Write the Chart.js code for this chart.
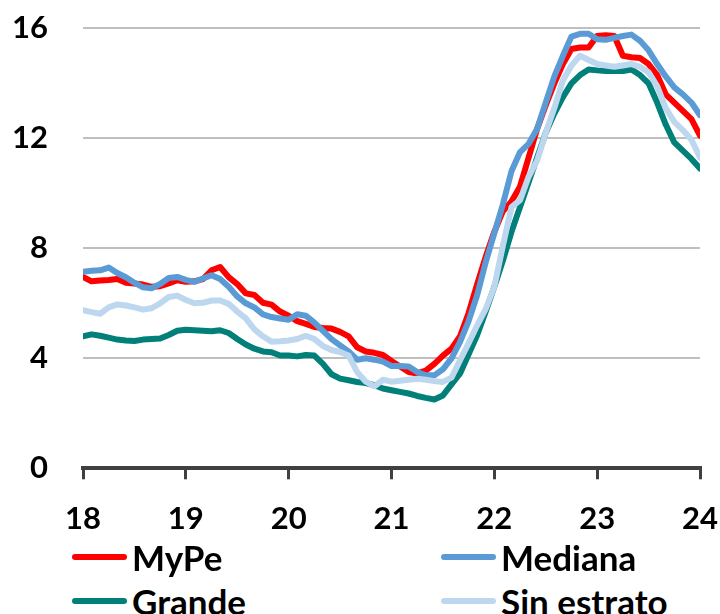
<!DOCTYPE html>
<html>
<head>
<meta charset="utf-8">
<script src="https://cdn.jsdelivr.net/npm/chart.js@4.4.1/dist/chart.umd.min.js"></script>
<style>
  body { margin: 0; background: #fff; }
  #wrap { position: relative; width: 720px; height: 614px; }
  #chart { position: absolute; left: 0; top: 0; }
  .legend-item {
    position: absolute;
    height: 44px;
    display: flex;
    align-items: center;
    font: bold 35px Lato, sans-serif;
    color: #000;
    white-space: nowrap;
  }
  .swatch { width: 55px; height: 6px; border-radius: 3px; margin-right: 5px; }
</style>
</head>
<body>
<div id="wrap">
  <canvas id="chart" width="720" height="540"></canvas>
  <div id="legend"></div>
</div>
<script>
// Monthly series, Jan-18 .. Jan-24 (73 points)
const mype = [
  6.96, 6.8, 6.83, 6.85, 6.88, 6.75, 6.72, 6.68, 6.6, 6.62, 6.72, 6.84,
  6.78, 6.8, 6.88, 7.2, 7.32, 6.95, 6.7, 6.36, 6.3, 6.02, 5.95, 5.7,
  5.55, 5.35, 5.25, 5.14, 5.1, 5.08, 4.96, 4.8, 4.4, 4.25, 4.2, 4.12,
  3.9, 3.7, 3.5, 3.45, 3.55, 3.8, 4.1, 4.35, 4.8, 5.65, 6.7, 7.7,
  8.6, 9.35, 9.7, 10.25, 11.3, 12.35, 13.2, 14.0, 14.7, 15.25, 15.3, 15.3,
  15.72, 15.75, 15.72, 15.0, 14.95, 14.92, 14.7, 14.3, 13.6, 13.3, 13.0, 12.7,
  12.1,
];
const mediana = [
  7.15, 7.18, 7.2, 7.3, 7.1, 6.95, 6.75, 6.58, 6.55, 6.7, 6.92, 6.96,
  6.85, 6.78, 6.9, 7.02, 6.88, 6.6, 6.25, 6.0, 5.85, 5.6, 5.5, 5.45,
  5.4, 5.6, 5.55, 5.3, 5.0, 4.7, 4.47, 4.25, 3.95, 4.0, 3.95, 3.88,
  3.72, 3.72, 3.7, 3.5, 3.38, 3.38, 3.6, 4.0, 4.6, 5.35, 6.3, 7.5,
  8.55, 9.6, 10.8, 11.5, 11.8, 12.35, 13.3, 14.25, 15.0, 15.7, 15.8, 15.8,
  15.6, 15.58, 15.65, 15.72, 15.77, 15.55, 15.2, 14.7, 14.25, 13.85, 13.6, 13.3,
  12.84,
];
const grande = [
  4.8, 4.87, 4.82, 4.75, 4.68, 4.65, 4.63, 4.68, 4.7, 4.72, 4.85, 5.0,
  5.04, 5.02, 5.0, 4.98, 5.02, 4.92, 4.7, 4.5, 4.35, 4.25, 4.22, 4.1,
  4.1, 4.07, 4.12, 4.1, 3.8, 3.42, 3.26, 3.2, 3.14, 3.1, 3.02, 2.9,
  2.84, 2.78, 2.72, 2.63, 2.56, 2.5, 2.65, 3.05, 3.45, 4.15, 4.85, 5.7,
  6.6, 7.55, 8.6, 9.5, 10.4, 11.3, 12.2, 12.9, 13.5, 14.0, 14.3, 14.5,
  14.47, 14.45, 14.45, 14.45, 14.5, 14.3, 14.0, 13.3, 12.5, 11.85, 11.55, 11.25,
  10.9,
];
const sinEstrato = [
  5.75, 5.68, 5.62, 5.85, 5.96, 5.92, 5.85, 5.77, 5.82, 6.0, 6.23, 6.28,
  6.12, 6.0, 6.02, 6.1, 6.1, 5.98, 5.7, 5.45, 5.05, 4.8, 4.6, 4.62,
  4.65, 4.7, 4.82, 4.7, 4.45, 4.3, 4.23, 4.1, 3.5, 3.15, 2.98, 3.22,
  3.15, 3.18, 3.22, 3.26, 3.22, 3.17, 3.14, 3.3, 3.93, 4.55, 5.2, 5.8,
  6.6, 8.1, 9.5, 9.75, 10.6, 11.2, 12.2, 13.1, 14.1, 14.65, 15.0, 14.85,
  14.7, 14.65, 14.6, 14.65, 14.7, 14.6, 14.4, 13.9, 13.1, 12.6, 12.3, 11.95,
  11.3,
];

const yearLabels = ["18", "19", "20", "21", "22", "23", "24"];
const firstYear = 18;

// position of each month on the year axis
const monthPos = mype.map((_, i) => firstYear + i / 12);

const series = [
  { label: "MyPe", data: mype, color: "#FF0000", order: 4 },
  { label: "Mediana", data: mediana, color: "#5B9BD5", order: 3 },
  { label: "Grande", data: grande, color: "#008078", order: 2 },
  { label: "Sin estrato", data: sinEstrato, color: "#BDD7EE", order: 1 },
];

const tickFont = { family: "Lato", size: 31, weight: "bold" };

const ctx = document.getElementById("chart").getContext("2d");
new Chart(ctx, {
  type: "line",
  data: {
    datasets: series.map((s) => ({
      label: s.label,
      data: s.data.map((v, i) => ({ x: monthPos[i], y: v })),
      borderColor: s.color,
      backgroundColor: s.color,
      borderWidth: 6,
      borderJoinStyle: "round",
      borderCapStyle: "round",
      pointRadius: 0,
      tension: 0,
      order: s.order,
    })),
  },
  options: {
    responsive: false,
    animation: false,
    devicePixelRatio: 1,
    layout: { padding: { top: 28.3, right: 20, bottom: 0, left: 0 } },
    plugins: {
      legend: { display: false },
      tooltip: { enabled: false },
    },
    scales: {
      x: {
        type: "linear",
        min: 18,
        max: 24,
        // fixed height, and no extra side padding from the label overhang
        afterFit: (scale) => {
          scale.height = 71.7;
          scale.paddingLeft = 0;
          scale.paddingRight = 0;
        },
        ticks: {
          stepSize: 1,
          padding: 21,
          color: "#000",
          font: tickFont,
          maxRotation: 0,
          autoSkip: false,
          callback: (value) => yearLabels[value - firstYear],
        },
        grid: {
          drawOnChartArea: false,
          drawTicks: true,
          tickLength: 11,
          color: "#404040",
          lineWidth: 3,
        },
        border: { display: true, color: "#404040", width: 4 },
      },
      y: {
        min: 0,
        max: 16,
        afterFit: (scale) => {
          scale.width = 83;
          scale.paddingTop = 0;
          scale.paddingBottom = 0;
        },
        ticks: {
          stepSize: 4,
          padding: 35,
          color: "#000",
          font: tickFont,
        },
        grid: {
          drawTicks: false,
          lineWidth: 2,
          color: (c) => (c.tick && c.tick.value === 0 ? "rgba(0,0,0,0)" : "#BFBFBF"),
        },
        border: { display: false },
      },
    },
  },
});

// Legend in two columns, below the axis
const legendSpots = [
  { left: 72, top: 535 },
  { left: 441, top: 535 },
  { left: 72, top: 579 },
  { left: 441, top: 579 },
];
const legend = document.getElementById("legend");
series.forEach((s, i) => {
  const item = document.createElement("div");
  item.className = "legend-item";
  item.style.left = legendSpots[i].left + "px";
  item.style.top = legendSpots[i].top + "px";
  item.innerHTML = `<span class="swatch" style="background:${s.color}"></span><span>${s.label}</span>`;
  legend.appendChild(item);
});
</script>
</body>
</html>
